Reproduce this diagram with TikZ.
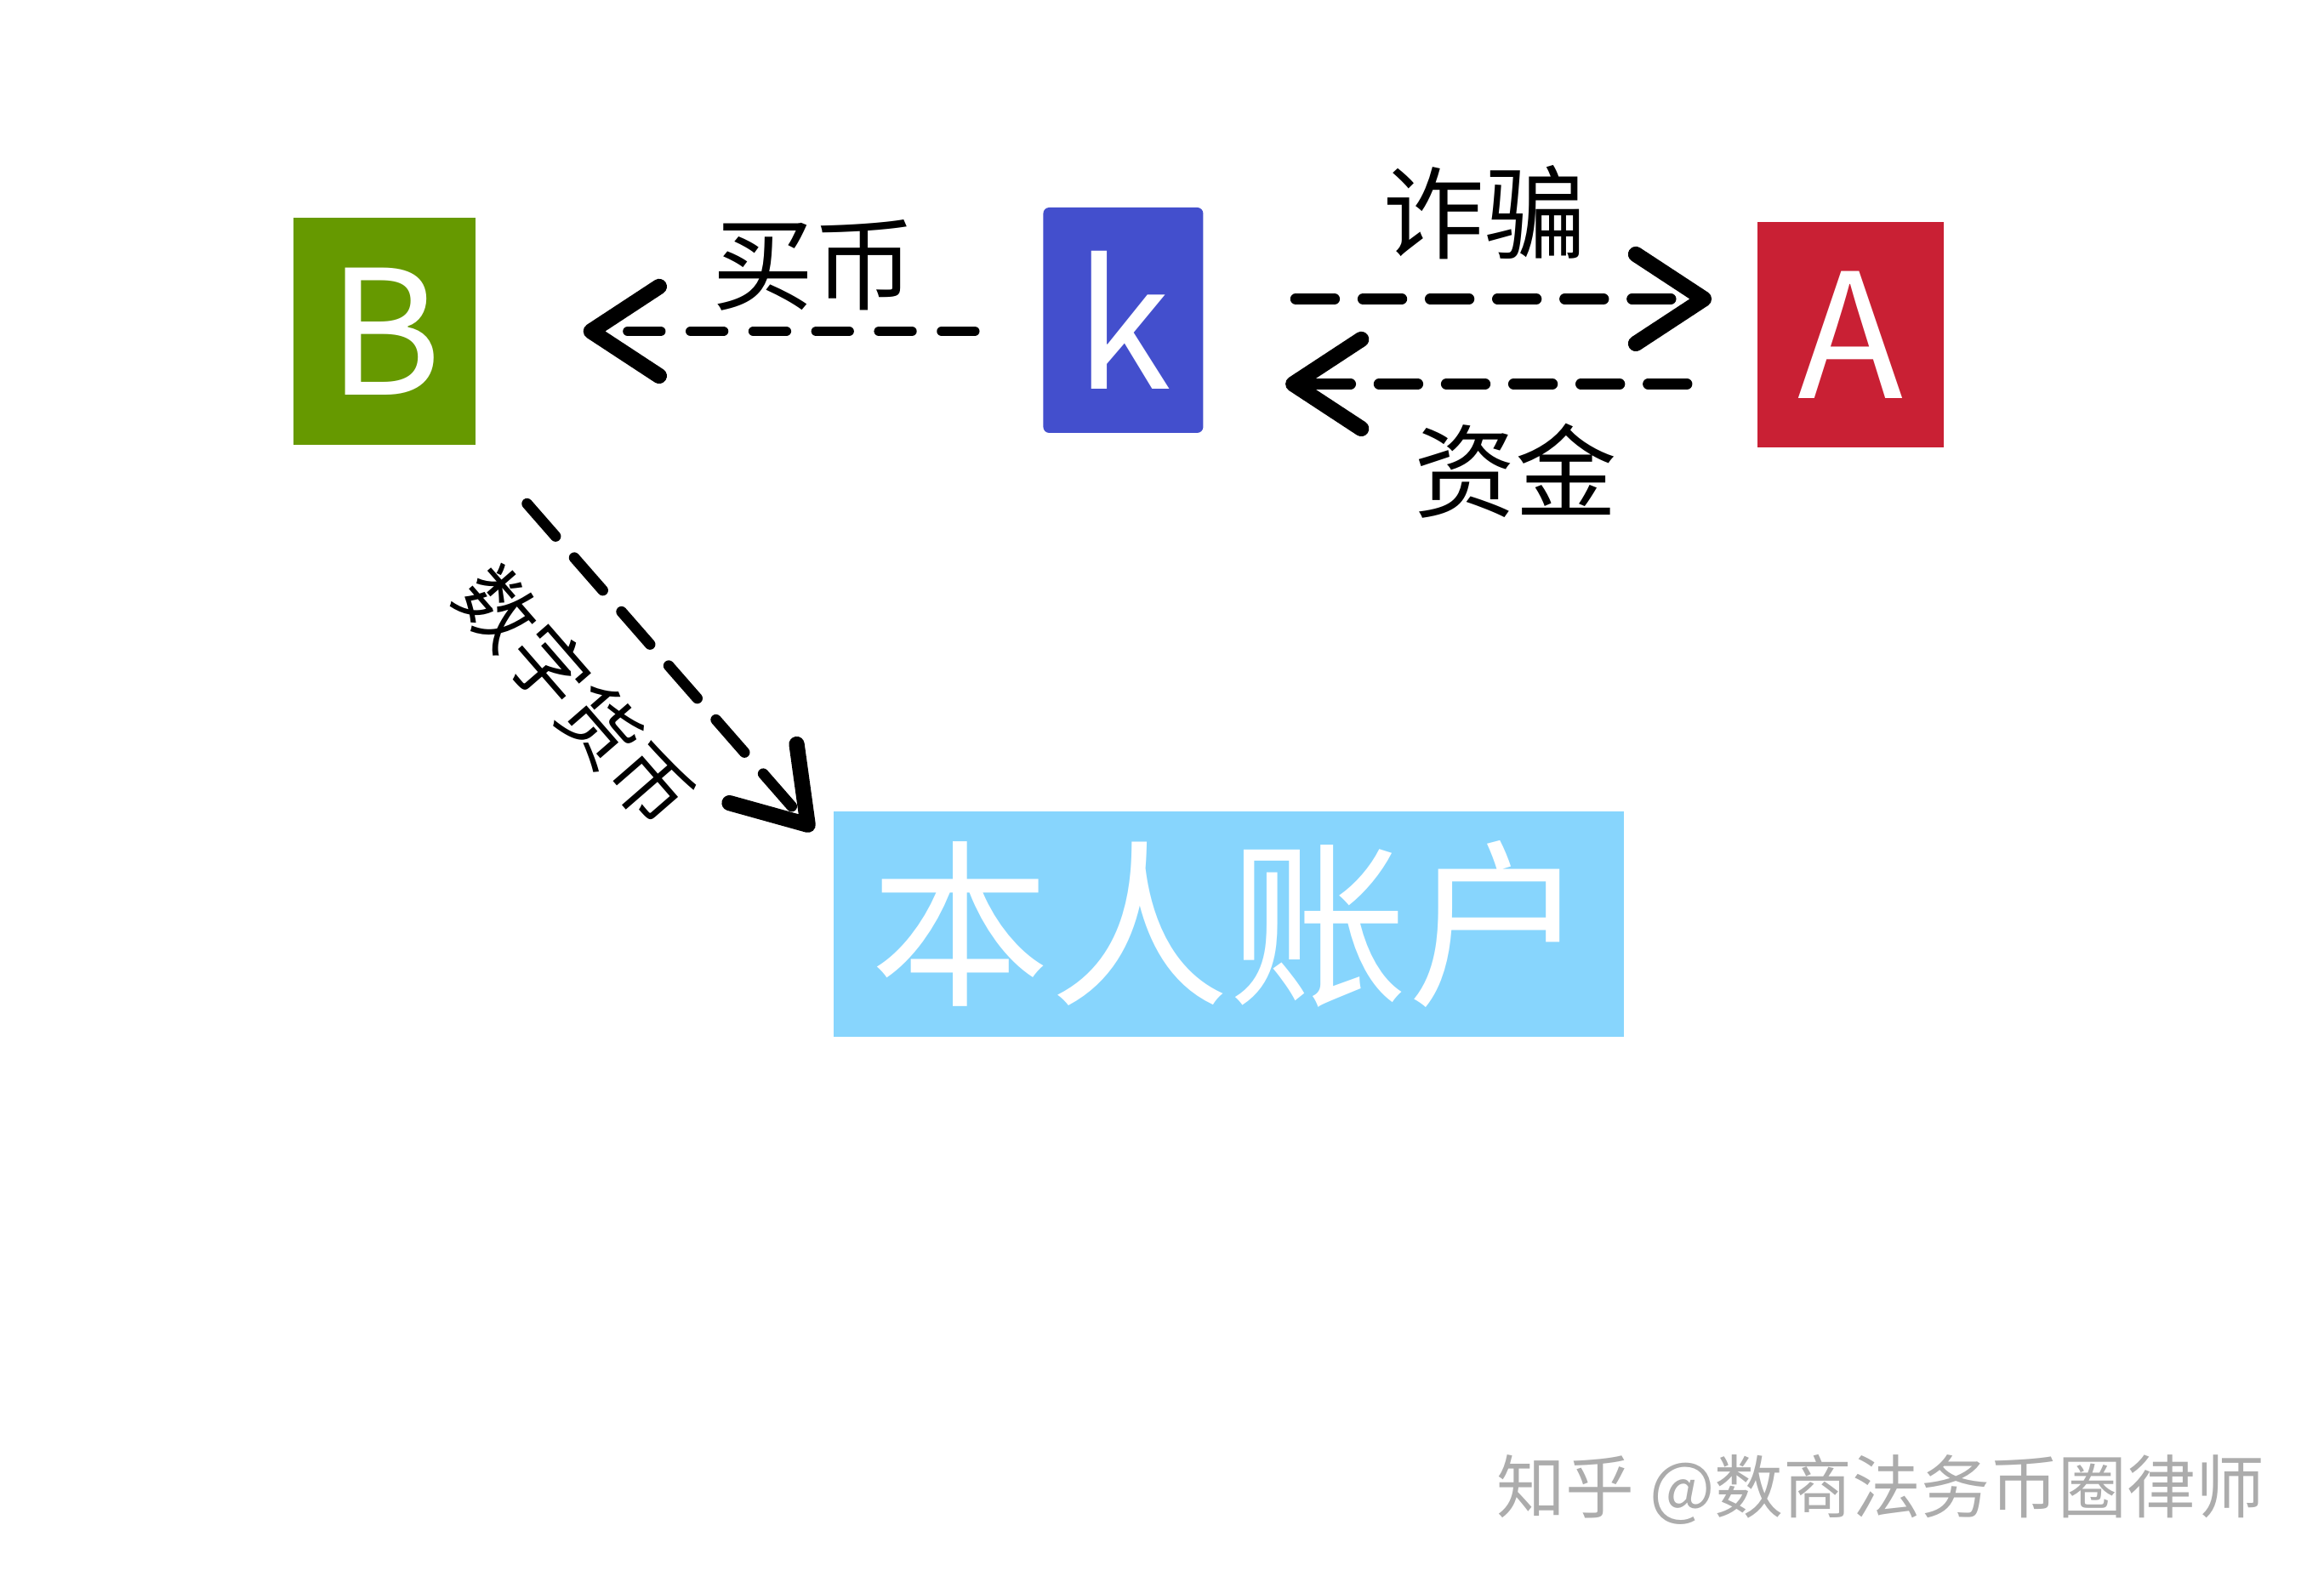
\documentclass[tikz,border=0pt]{standalone}
\usepackage{fontspec}
\setmainfont{Noto Sans CJK SC}
\usetikzlibrary{arrows.meta, positioning}
\definecolor{cGreenB}{RGB}{102,153,0}
\definecolor{cBlueK}{RGB}{67,79,205}
\definecolor{cRedA}{RGB}{201,32,52}
\definecolor{cSky}{RGB}{135,213,253}
\definecolor{cMark}{RGB}{172,172,172}
\tikzset{
  partybox/.style={rectangle, inner sep=0pt, text=white,
                   font=\fontsize{58}{60}\selectfont,
                   minimum width=2.1cm, minimum height=2.65cm},
  acctbox/.style={rectangle, inner sep=0pt, fill=cSky, text=white,
                  font=\fontsize{60}{62}\selectfont,
                  minimum width=9.29cm, minimum height=2.65cm},
  lbl/.style={inner sep=0pt, font=\fontsize{34}{36}\selectfont},
  flowarrow/.style={-{Straight Barb[round, length=0.8cm, width=1.05cm, line width=5.2pt]},
                    line width=3.3pt, dash pattern=on 11pt off 10pt, line cap=round}
}
\begin{document}
\begin{tikzpicture}
  \useasboundingbox (0,0) rectangle (27.32,18.60);

  % parties
  \node[partybox, fill=cGreenB, minimum width=2.14cm, minimum height=2.67cm] (B) at (4.52,14.705) {B};
  \node[partybox, fill=cBlueK, rounded corners=2pt, minimum width=1.88cm,
        right=6.66cm of B, yshift=0.13cm] (k) {k};
  \node[partybox, fill=cRedA, minimum width=2.19cm,
        right=6.50cm of k, yshift=-0.17cm] (A) {A};

  % own account
  \node[acctbox, below=4.44cm of k, xshift=1.245cm] (acct) {本人账户};

  % flows
  \draw[flowarrow, shorten <=0.8cm, shorten >=1.26cm] (k.west |- B.east) -- (B.east)
      node[lbl, pos=0.404, above=0.18cm] (lbuy) {买币};

  \coordinate (fraudS) at ([yshift=0.25cm]k.east);
  \draw[flowarrow, line width=3.6pt, dash pattern=on 13pt off 9.5pt,
        shorten <=1.08cm, shorten >=0.53cm] (fraudS) -- (fraudS -| A.west)
      node[lbl, pos=0.508, above=0.4cm] (lfraud) {诈骗};

  \coordinate (fundS) at ([yshift=-0.58cm]A.west);
  \draw[flowarrow, line width=3.6pt, dash pattern=on 13pt off 9.5pt,
        shorten <=0.82cm, shorten >=0.96cm] (fundS) -- (fundS -| k.east)
      node[lbl, pos=0.436, below=0.4cm] (lfund) {资金};

  \coordinate (coinE) at ([xshift=-0.24cm, yshift=-0.23cm]acct.north west);
  \draw[flowarrow, line width=3.6pt, dash pattern=on 14.5pt off 9.5pt, shorten <=0.91cm]
      (B.south east) -- (coinE);
  \node[lbl, font=\fontsize{26}{28}\selectfont, rotate=-49] (lcoin) at (6.76,10.41) {数字货币};

  % watermark
  \node[inner sep=0pt, font=\fontsize{23}{25}\selectfont, text=cMark] (mark) at (22.11,1.09)
      {知乎 @数商法务币圈律师};
\end{tikzpicture}
\end{document}
